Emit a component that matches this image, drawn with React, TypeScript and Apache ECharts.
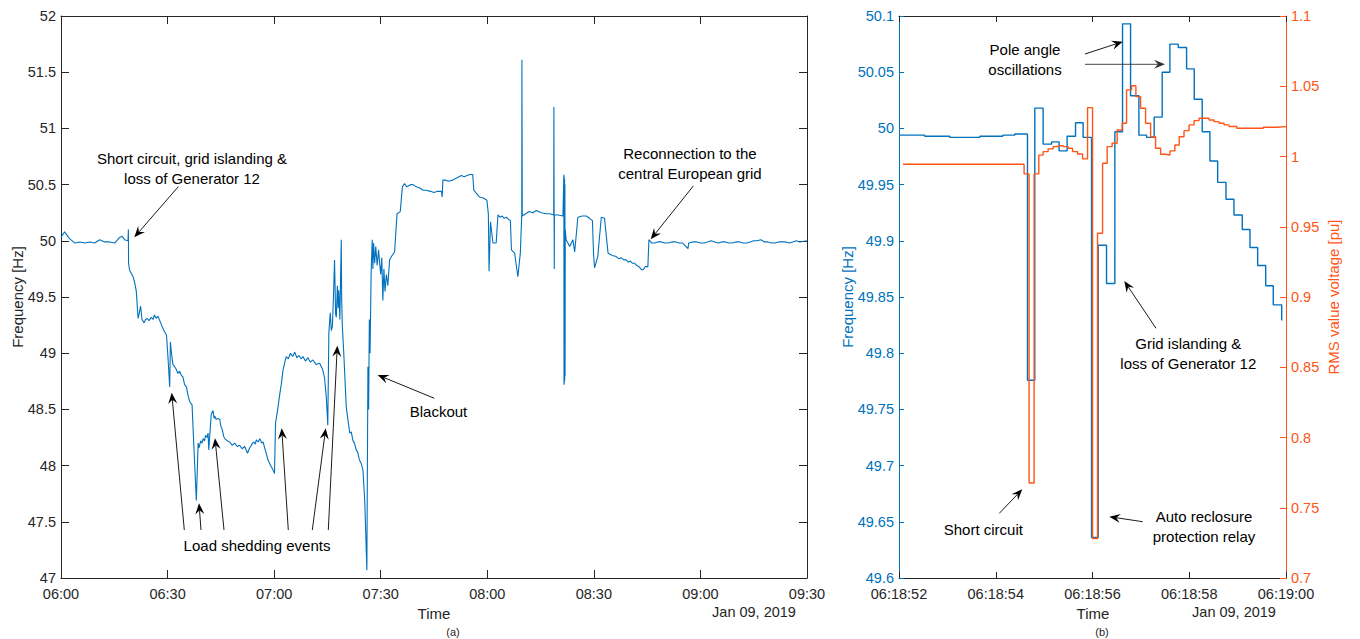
import React, { useEffect, useRef } from 'react';
import * as echarts from 'echarts';

// ---------- data ----------
const overviewTicks = ['06:00', '06:30', '07:00', '07:30', '08:00', '08:30', '09:00', '09:30'];
const zoomTicks = ['06:18:52', '06:18:54', '06:18:56', '06:18:58', '06:19:00'];

// (a) frequency: [minutes after 06:00, Hz]
const overviewFreq: [number, number][] = [
  [0, 50.03], [1, 50.08], [2.4, 50.02], [3.9, 49.98], [5.3, 49.99], [6.7, 49.98], [8.1, 49.99], [9.5, 49.98],
  [10.9, 50.01], [12.3, 49.99], [13.7, 49.99], [15.1, 49.98], [16.5, 50.03], [17.2, 50.04], [17.9, 50.01],
  [18.86, 50.0], [18.97, 50.1], [19.02, 49.8], [19.3, 49.74], [19.8, 49.71], [20.3, 49.68], [20.8, 49.62],
  [21.2, 49.55], [21.7, 49.31], [22.0, 49.35], [22.4, 49.42], [22.8, 49.3], [23.4, 49.27], [23.8, 49.3],
  [24.2, 49.31], [24.8, 49.29], [25.4, 49.32], [25.9, 49.3], [26.3, 49.34], [26.8, 49.31], [27.3, 49.33],
  [27.8, 49.29], [28.3, 49.25], [29.0, 49.2], [29.7, 49.16], [30.1, 48.97], [30.6, 48.7], [30.8, 49.1],
  [31.1, 49.0], [31.5, 48.9], [32.0, 48.88], [32.4, 48.86], [32.9, 48.82], [33.4, 48.84], [33.9, 48.8],
  [34.3, 48.79], [34.8, 48.72], [35.3, 48.7], [35.8, 48.62], [36.2, 48.57], [36.9, 48.54], [37.4, 48.17],
  [38.1, 47.69], [38.6, 48.2], [38.9, 48.16], [39.3, 48.22], [39.7, 48.2], [40.0, 48.24], [40.4, 48.22],
  [40.7, 48.27], [41.1, 48.25], [41.4, 48.29], [41.6, 48.14], [42.3, 48.46], [42.8, 48.49], [43.1, 48.42],
  [43.3, 48.44], [43.7, 48.41], [44.2, 48.42], [44.7, 48.41], [45.0, 48.35], [45.4, 48.32], [45.8, 48.26],
  [46.1, 48.24], [46.8, 48.22], [47.5, 48.21], [48.2, 48.18], [48.9, 48.2], [49.6, 48.17], [50.3, 48.18],
  [51.0, 48.15], [51.7, 48.17], [52.5, 48.11], [53.0, 48.15], [53.4, 48.17], [53.9, 48.2], [54.3, 48.21],
  [54.7, 48.19], [55.0, 48.23], [55.5, 48.21], [56.0, 48.24], [56.5, 48.2], [56.9, 48.21], [57.3, 48.16],
  [57.6, 48.13], [58.0, 48.08], [58.3, 48.05], [59.0, 48.0], [59.7, 47.96], [60.1, 47.93], [60.4, 48.38],
  [61.0, 48.5], [61.6, 48.64], [62.0, 48.72], [62.5, 48.85], [63.0, 48.92], [63.4, 48.97], [64.0, 48.95],
  [64.6, 49.0], [65.2, 48.97], [65.8, 49.01], [66.4, 48.96], [67.0, 48.98], [67.6, 48.95], [68.1, 48.97],
  [68.8, 48.93], [69.5, 48.96], [70.2, 48.92], [70.9, 48.94], [71.8, 48.9], [72.8, 48.91], [73.6, 48.86],
  [74.2, 48.78], [74.7, 48.6], [75.1, 48.36], [75.4, 49.18], [75.8, 49.36], [76.1, 49.2], [76.4, 49.24],
  [76.7, 49.5], [77.0, 49.83], [77.3, 49.35], [77.5, 49.32], [77.8, 49.6], [78.0, 49.4], [78.2, 49.56],
  [78.5, 49.3], [78.9, 50.01], [79.0, 49.5], [79.2, 49.24], [79.6, 49.0], [80.3, 48.52], [80.8, 48.4],
  [81.3, 48.29], [81.7, 48.3], [82.2, 48.22], [82.6, 48.2], [83.1, 48.14], [83.5, 48.12], [84.0, 48.05],
  [84.5, 48.02], [85.0, 47.96], [85.5, 47.69], [86.1, 47.07], [86.4, 48.88], [86.6, 48.5], [86.8, 49.3],
  [87.0, 49.0], [87.3, 49.7], [87.6, 50.01], [87.8, 49.75], [88.0, 49.98], [88.3, 49.8], [88.6, 49.95],
  [89.0, 49.78], [89.4, 49.92], [89.7, 49.8], [90.0, 49.7], [90.3, 49.85], [90.6, 49.47], [90.9, 49.75],
  [91.2, 49.55], [91.6, 49.7], [92.0, 49.6], [92.5, 49.83], [93.0, 49.86], [93.9, 49.9], [94.6, 50.24],
  [95.5, 50.26], [96.1, 50.48], [96.7, 50.51], [97.3, 50.48], [97.9, 50.49], [98.5, 50.5], [99.1, 50.5],
  [100.0, 50.48], [101.0, 50.47], [101.9, 50.45], [102.8, 50.45], [104.0, 50.44], [105.0, 50.43],
  [106.0, 50.44], [107.1, 50.44], [107.3, 50.39], [107.5, 50.54], [108.2, 50.54], [109.0, 50.53],
  [110.3, 50.54], [111.5, 50.56], [112.7, 50.58], [113.5, 50.57], [114.3, 50.58], [115.1, 50.59],
  [115.9, 50.59], [116.2, 50.45], [117.0, 50.42], [117.8, 50.39], [118.9, 50.38], [119.9, 50.36],
  [120.3, 50.24], [120.5, 49.73], [120.9, 50.17], [121.6, 49.98], [122.5, 49.98], [123.0, 50.23],
  [123.6, 50.21], [124.2, 50.22], [124.8, 50.2], [125.4, 50.21], [126.0, 50.19], [126.5, 50.18],
  [126.8, 49.92], [127.7, 49.89], [128.6, 49.68], [129.3, 49.89], [129.7, 50.23], [129.75, 51.61],
  [129.85, 50.22], [130.8, 50.24], [131.8, 50.26], [132.8, 50.25], [133.8, 50.27], [135.2, 50.25],
  [136.6, 50.24], [137.6, 50.24], [138.7, 50.23], [138.75, 51.19], [138.85, 49.75], [138.9, 50.23],
  [140.0, 50.23], [141.3, 50.22], [141.55, 50.59], [141.6, 48.72], [141.65, 50.57], [141.7, 48.74],
  [141.75, 50.55], [141.8, 48.76], [141.85, 50.5], [141.9, 48.8], [141.95, 50.1], [142.2, 50.01],
  [143.2, 49.95], [144.1, 50.01], [144.6, 49.9], [145.5, 50.21], [146.7, 50.22], [147.9, 50.22],
  [148.8, 50.2], [149.6, 50.18], [149.9, 49.89], [150.2, 49.76], [151.1, 49.86], [152.1, 50.21],
  [153.0, 50.2], [154.0, 49.89], [155.2, 49.87], [156.3, 49.86], [157.0, 49.84], [157.7, 49.85],
  [158.4, 49.83], [159.1, 49.83], [159.7, 49.81], [160.3, 49.82], [160.9, 49.8], [161.5, 49.8],
  [162.1, 49.78], [162.7, 49.77], [163.2, 49.75], [163.8, 49.74], [164.5, 49.77], [165.2, 49.77],
  [165.5, 50.01], [166.3, 49.98], [167.1, 49.98], [168.0, 49.99], [169.0, 49.99], [170.0, 49.98],
  [171.0, 49.98], [172.0, 49.99], [173.0, 49.99], [174.0, 49.98], [175.0, 49.98], [176.5, 49.93],
  [176.7, 49.98], [177.8, 49.99], [179.0, 49.99], [180.0, 49.98], [181.0, 49.98], [182.0, 49.99],
  [183.0, 50.0], [184.0, 49.99], [185.0, 49.98], [186.0, 49.99], [187.0, 49.99], [188.0, 49.98],
  [189.0, 49.98], [190.0, 49.99], [191.0, 49.99], [192.0, 49.98], [193.0, 49.98], [194.0, 49.99],
  [195.0, 50.0], [196.0, 50.0], [197.0, 50.01], [198.0, 49.99], [199.0, 49.99], [200.0, 49.98],
  [201.0, 49.98], [202.0, 49.99], [203.0, 49.99], [204.0, 49.99], [205.0, 49.98], [206.0, 49.99],
  [207.0, 50.0], [208.0, 49.99], [209.9, 50.0],
];

// (b) frequency: [seconds after 06:18:52, Hz] (stairs)
const zoomFreq: [number, number][] = [
  [0.0, 49.994], [0.532, 49.993], [1.049, 49.992], [1.67, 49.993], [2.145, 49.994], [2.393, 49.995],
  [2.656, 49.776], [2.807, 50.018], [2.979, 49.986], [3.153, 49.988], [3.31, 49.98], [3.475, 49.993],
  [3.649, 50.005], [3.806, 49.992], [3.98, 49.636], [4.117, 49.896], [4.29, 49.862], [4.462, 49.997],
  [4.621, 50.093], [4.787, 50.029], [4.959, 49.994], [5.118, 49.992], [5.275, 50.01], [5.441, 50.05],
  [5.6, 50.075], [5.772, 50.072], [5.945, 50.053], [6.103, 50.026], [6.268, 49.997], [6.427, 49.971],
  [6.587, 49.952], [6.759, 49.937], [6.924, 49.923], [7.096, 49.91], [7.255, 49.894], [7.414, 49.878],
  [7.58, 49.86], [7.737, 49.843], [7.911, 49.829],
];

// (b) RMS voltage: [seconds after 06:18:52, pu] (stairs)
const zoomVoltage: [number, number][] = [
  [0.083, 0.9945], [2.586, 0.9876], [2.689, 0.7676], [2.793, 0.9876], [2.89, 1.001], [2.979, 1.0035],
  [3.082, 1.0054], [3.186, 1.007], [3.289, 1.0077], [3.393, 1.007], [3.496, 1.0059], [3.587, 1.0035],
  [3.691, 1.0018], [3.794, 0.9983], [3.898, 1.0348], [4.001, 0.728], [4.104, 0.9454], [4.208, 0.9952],
  [4.303, 1.007], [4.406, 1.0094], [4.51, 1.0189], [4.613, 1.0237], [4.704, 1.0474], [4.808, 1.0504],
  [4.897, 1.0426], [4.994, 1.0343], [5.097, 1.0237], [5.201, 1.0141], [5.304, 1.0059], [5.408, 1.0016],
  [5.496, 1.0011], [5.6, 1.004], [5.703, 1.0082], [5.792, 1.0141], [5.892, 1.0184], [5.996, 1.0225],
  [6.099, 1.0255], [6.202, 1.0272], [6.306, 1.0272], [6.409, 1.026], [6.513, 1.0248], [6.616, 1.0237],
  [6.72, 1.0225], [6.823, 1.0213], [6.982, 1.0201], [7.53, 1.0208], [7.807, 1.0213], [8.0, 1.0213],
];

// ---------- styling ----------
const BLUE = '#0072BD';
const ORANGE = '#FF5516';
const AX = '#262626';
const FONT = '"Liberation Sans", Arial, Helvetica, sans-serif';

function txt(x: number, y: number, text: string, opts: any = {}) {
  const size = opts.size ?? 15;
  return {
    type: 'text',
    x,
    y,
    rotation: opts.rotation ?? 0,
    z: 100,
    style: {
      text,
      fill: opts.color ?? '#000',
      font: `${size}px ${FONT}`,
      fontSize: size,
      fontFamily: FONT,
      align: 'center',
      textAlign: 'center',
      verticalAlign: 'middle',
      textVerticalAlign: 'middle',
      lineHeight: opts.lineHeight ?? 20,
    },
  };
}

function arrow(x1: number, y1: number, x2: number, y2: number, color = '#000') {
  const dx = x2 - x1;
  const dy = y2 - y1;
  const L = Math.hypot(dx, dy);
  const ux = dx / L;
  const uy = dy / L;
  const px = -uy;
  const py = ux;
  const hl = 11;
  const hw = 4.5;
  const notch = 7;
  const bx = x2 - ux * hl;
  const by = y2 - uy * hl;
  const nx = x2 - ux * notch;
  const ny = y2 - uy * notch;
  return [
    { type: 'line', z: 100, shape: { x1, y1, x2: nx, y2: ny }, style: { stroke: color, lineWidth: 0.9 } },
    {
      type: 'polygon',
      z: 100,
      shape: { points: [[x2, y2], [bx + px * hw, by + py * hw], [nx, ny], [bx - px * hw, by - py * hw]] },
      style: { fill: color },
    },
  ];
}

const labelStyle = { fontFamily: FONT, fontSize: 14.5, color: AX };

function xAxisDef(grid: number, min: number, max: number, interval: number, ticks: string[], top: boolean, tickLen: number) {
  return {
    type: 'value',
    gridIndex: grid,
    position: top ? 'top' : 'bottom',
    min,
    max,
    interval,
    axisLine: { show: true, onZero: false, lineStyle: { color: AX, width: 1 } },
    axisTick: { show: true, inside: true, length: tickLen, lineStyle: { color: AX } },
    axisLabel: top
      ? { show: false }
      : { ...labelStyle, margin: 8, formatter: (v: number) => ticks[Math.round((v - min) / interval)] ?? '' },
    splitLine: { show: false },
  };
}

function yAxisDef(grid: number, pos: string, min: number, max: number, interval: number, color: string, tickLen: number, labels: boolean, digits: number) {
  const f = Math.pow(10, digits);
  return {
    type: 'value',
    gridIndex: grid,
    position: pos,
    min,
    max,
    interval,
    axisLine: { show: true, onZero: false, lineStyle: { color, width: 1 } },
    axisTick: { show: true, inside: true, length: tickLen, lineStyle: { color } },
    axisLabel: labels
      ? { ...labelStyle, color, margin: 5, formatter: (v: number) => String(Math.round(v * f) / f) }
      : { show: false },
    splitLine: { show: false },
  };
}

export default function App() {
  const ref = useRef<HTMLDivElement>(null);

  useEffect(() => {
    if (!ref.current) return;
    const chart = echarts.init(ref.current, undefined, { renderer: 'svg' });

    const graphics: any[] = [
      // axis titles
      txt(17, 297, 'Frequency [Hz]', { rotation: Math.PI / 2, color: AX }),
      txt(434, 613, 'Time', { color: AX }),
      txt(754, 612, 'Jan 09, 2019', { color: AX, size: 14.5 }),
      txt(453, 632, '(a)', { color: AX, size: 11 }),
      txt(847, 297, 'Frequency [Hz]', { rotation: Math.PI / 2, color: BLUE }),
      txt(1333, 297, 'RMS value voltage [pu]', { rotation: Math.PI / 2, color: ORANGE }),
      txt(1093, 613, 'Time', { color: AX }),
      txt(1234, 612, 'Jan 09, 2019', { color: AX, size: 14.5 }),
      txt(1102, 632, '(b)', { color: AX, size: 11 }),
      // annotations (a)
      txt(192, 168, 'Short circuit, grid islanding &\nloss of Generator 12'),
      ...arrow(178.3, 186.7, 134.3, 237.3),
      txt(690, 163, 'Reconnection to the\ncentral European grid'),
      ...arrow(693.3, 186, 650.7, 239.3),
      txt(438.5, 411.7, 'Blackout'),
      ...arrow(434.3, 398.3, 377.7, 375),
      txt(257, 545, 'Load shedding events'),
      ...arrow(184.3, 530, 171.7, 392.7),
      ...arrow(201, 530, 199, 503.3),
      ...arrow(224, 530, 215, 438.3),
      ...arrow(288.3, 530, 281.7, 428.3),
      ...arrow(312.3, 530, 325.7, 428.3),
      ...arrow(328.3, 530, 337.3, 345.7),
      // annotations (b)
      txt(1025, 59, 'Pole angle\noscillations'),
      ...arrow(1085, 54, 1122.7, 41.7),
      ...arrow(1085, 64.3, 1165, 64.3, '#333'),
      txt(1188.3, 353.3, 'Grid islanding &\nloss of Generator 12'),
      ...arrow(1156, 328.3, 1124.3, 281),
      txt(983.3, 529.3, 'Short circuit'),
      ...arrow(999.3, 513.3, 1022.3, 489.3),
      txt(1204, 526, 'Auto reclosure\nprotection relay'),
      ...arrow(1142.7, 521.7, 1109.3, 516.7),
    ];

    chart.setOption({
      animation: false,
      backgroundColor: '#fff',
      textStyle: { fontFamily: FONT },
      grid: [
        { left: 61, top: 16, width: 746, height: 562 },
        { left: 899, top: 16, width: 387, height: 562 },
      ],
      xAxis: [
        xAxisDef(0, 0, 210, 30, overviewTicks, false, 8),
        xAxisDef(0, 0, 210, 30, overviewTicks, true, 8),
        xAxisDef(1, 0, 8, 2, zoomTicks, false, 6),
        xAxisDef(1, 0, 8, 2, zoomTicks, true, 6),
      ],
      yAxis: [
        yAxisDef(0, 'left', 47, 52, 0.5, AX, 8, true, 1),
        yAxisDef(0, 'right', 47, 52, 0.5, AX, 8, false, 1),
        yAxisDef(1, 'left', 49.6, 50.1, 0.05, BLUE, 5, true, 2),
        yAxisDef(1, 'right', 0.7, 1.1, 0.05, ORANGE, 6, true, 2),
      ],
      series: [
        {
          type: 'line',
          name: 'Frequency',
          xAxisIndex: 0,
          yAxisIndex: 0,
          data: overviewFreq,
          showSymbol: false,
          symbol: 'none',
          lineStyle: { color: BLUE, width: 1.1 },
          itemStyle: { color: BLUE },
          z: 3,
        },
        {
          type: 'line',
          name: 'Frequency (zoom)',
          xAxisIndex: 2,
          yAxisIndex: 2,
          data: zoomFreq,
          step: 'end',
          showSymbol: false,
          symbol: 'none',
          lineStyle: { color: BLUE, width: 1.4 },
          itemStyle: { color: BLUE },
          z: 3,
        },
        {
          type: 'line',
          name: 'RMS voltage',
          xAxisIndex: 2,
          yAxisIndex: 3,
          data: zoomVoltage,
          step: 'end',
          showSymbol: false,
          symbol: 'none',
          lineStyle: { color: ORANGE, width: 1.4 },
          itemStyle: { color: ORANGE },
          z: 4,
        },
      ],
      graphic: graphics,
    });

    return () => chart.dispose();
  }, []);

  return (
    <div
      ref={ref}
      style={{ position: 'fixed', left: 0, top: 0, width: 1360, height: 639, background: '#fff' }}
    />
  );
}
